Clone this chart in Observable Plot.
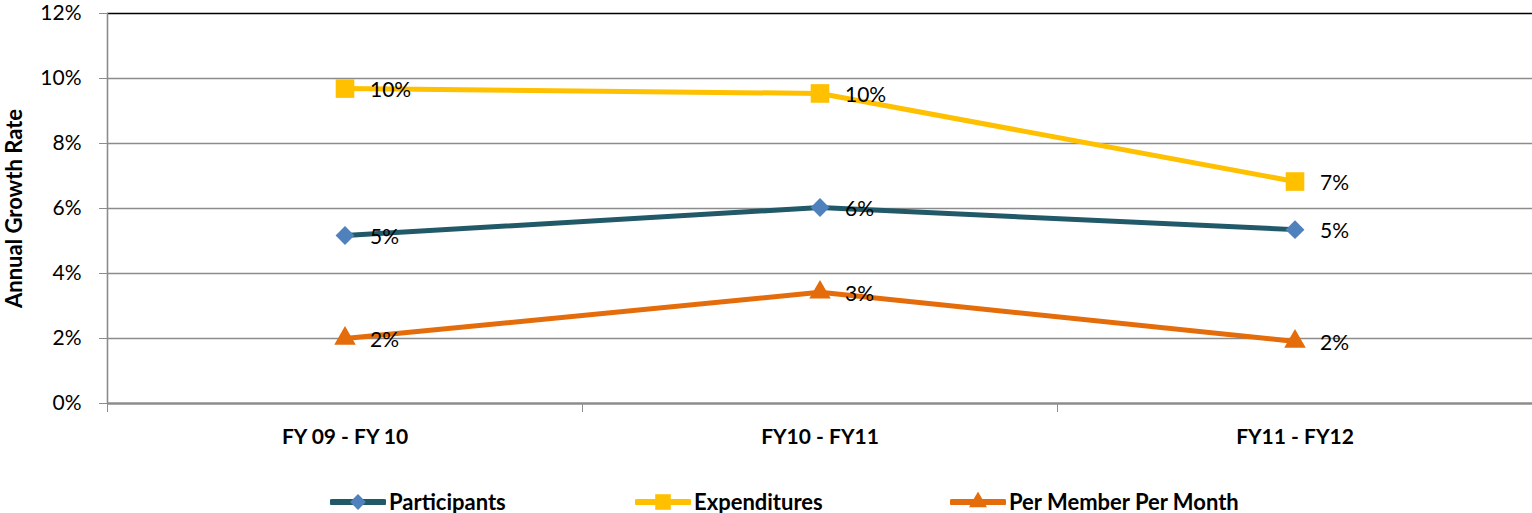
<!DOCTYPE html>
<html>
<head>
<meta charset="utf-8">
<script src="https://cdn.jsdelivr.net/npm/d3@7"></script>
<script src="https://cdn.jsdelivr.net/npm/@observablehq/plot@0.6"></script>
<style>
  html, body { margin: 0; padding: 0; background: #fff; }
  body { width: 1532px; height: 513px; overflow: hidden; font-family: Lato, "Open Sans", sans-serif; }
  #legend { position: relative; height: 53px; }
  .item { position: absolute; top: 28px; display: flex; align-items: center; font-weight: bold; font-size: 22px; color: #000; }
  .item svg { margin-right: 3px; }
</style>
</head>
<body>
<div id="chart"></div>
<div id="legend"></div>
<script>
const periods = ["FY 09 - FY 10", "FY10 - FY11", "FY11 - FY12"];
const participants = [5.17, 6.03, 5.35];
const expenditures = [9.69, 9.54, 6.83];
const pmpm = [2.0, 3.42, 1.91];
const yTicks = [0, 2, 4, 6, 8, 10, 12];
const yTitle = "Annual Growth Rate";

const seriesDefs = [
  {name: "Participants", values: participants, line: "#215968", fill: "#4F81BD", symbol: "diamond2", r: 8.5},
  {name: "Expenditures", values: expenditures, line: "#FFC000", fill: "#FFC000", symbol: "square", r: 10.5},
  {name: "Per Member Per Month", values: pmpm, line: "#E46C0A", fill: "#E46C0A", symbol: "triangle", r: 8}
];

const rows = seriesDefs.flatMap(s => s.values.map((v, i) => ({series: s.name, pos: i + 0.5, period: periods[i], value: v})));

const marks = [
  Plot.gridY(yTicks.filter(t => t > 0 && t < 12), {stroke: "#8c8c8c", strokeOpacity: 1, strokeWidth: 1.6}),
  Plot.ruleY([12], {stroke: "#000", strokeWidth: 1.6}),
  Plot.ruleY([0], {stroke: "#8c8c8c", strokeWidth: 2.5}),
  Plot.ruleX([0], {stroke: "#8c8c8c", strokeWidth: 1.6}),
  Plot.axisY({ticks: yTicks, tickSize: 8, tickPadding: 18, tickFormat: d => d + "%", fontSize: 21, stroke: "#8c8c8c", label: null}),
  Plot.text([yTitle], {frameAnchor: "left", textAnchor: "middle", lineAnchor: "middle", rotate: -90, dx: -93, text: d => d, fontSize: 22, fontWeight: "bold", fill: "#000"}),
  Plot.axisX({ticks: [0, 1, 2, 3], tickSize: 9, tickFormat: () => "", stroke: "#8c8c8c", label: null}),
  Plot.axisX({ticks: [0.5, 1.5, 2.5], tickSize: 0, tickPadding: 26, tickFormat: d => periods[Math.floor(d)], fontSize: 21, fontWeight: "bold", label: null})
];

for (const s of seriesDefs) {
  const data = rows.filter(r => r.series === s.name);
  marks.push(Plot.line(data, {x: "pos", y: "value", stroke: s.line, strokeWidth: 5}));
}
for (const s of seriesDefs) {
  const data = rows.filter(r => r.series === s.name);
  marks.push(Plot.dot(data, {x: "pos", y: "value", symbol: () => s.symbol, fill: s.fill, stroke: "none", r: s.r}));
  marks.push(Plot.text(data, {x: "pos", y: "value", text: d => Math.round(d.value) + "%", textAnchor: "start", dx: 25, dy: 2, fontSize: 21, fill: "#000"}));
}

const chart = Plot.plot({
  width: 1532,
  height: 460,
  marginTop: 13,
  marginBottom: 57,
  marginLeft: 107,
  marginRight: 0,
  style: {fontFamily: "Lato, 'Open Sans', sans-serif", color: "#000", background: "#fff"},
  x: {type: "linear", domain: [0, 3]},
  y: {domain: [0, 12]},
  symbol: {type: "identity"},
  marks
});
document.getElementById("chart").appendChild(chart);

// legend
const legend = document.getElementById("legend");
const lefts = [330, 635, 950];
seriesDefs.forEach((s, i) => {
  const item = document.createElement("div");
  item.className = "item";
  item.style.left = lefts[i] + "px";
  const sw = d3.create("svg").attr("width", 56).attr("height", 20);
  sw.append("line").attr("x1", 2).attr("x2", 54).attr("y1", 10).attr("y2", 10).attr("stroke", s.line).attr("stroke-width", 6).attr("stroke-linecap", "round");
  const symMap = {diamond2: d3.symbolDiamond2, square: d3.symbolSquare, triangle: d3.symbolTriangle};
  sw.append("path").attr("transform", "translate(28,10)").attr("d", d3.symbol(symMap[s.symbol], s.r * s.r * Math.PI * 0.7)()).attr("fill", s.fill);
  item.appendChild(sw.node());
  const t = document.createElement("span");
  t.textContent = s.name;
  item.appendChild(t);
  legend.appendChild(item);
});
</script>
</body>
</html>
